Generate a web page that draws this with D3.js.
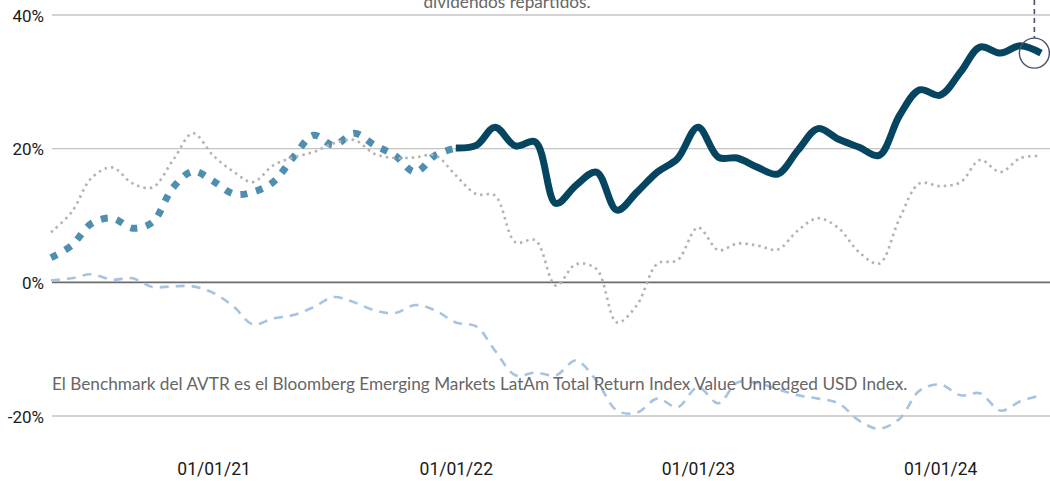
<!DOCTYPE html>
<html>
<head>
<meta charset="utf-8">
<script src="https://cdn.jsdelivr.net/npm/d3@7"></script>
<style>
  html, body { margin: 0; padding: 0; background: #fff; overflow: hidden; }
  svg { display: block; }
</style>
</head>
<body>
<svg id="chart" width="1050" height="481"></svg>
<script>
// ---- data ----
const months = [
  "2020-05","2020-06","2020-07","2020-08","2020-09","2020-10","2020-11","2020-12",
  "2021-01","2021-02","2021-03","2021-04","2021-05","2021-06","2021-07","2021-08",
  "2021-09","2021-10","2021-11","2021-12","2022-01","2022-02","2022-03","2022-04",
  "2022-05","2022-06","2022-07","2022-08","2022-09","2022-10","2022-11","2022-12",
  "2023-01","2023-02","2023-03","2023-04","2023-05","2023-06","2023-07","2023-08",
  "2023-09","2023-10","2023-11","2023-12","2024-01","2024-02","2024-03","2024-04",
  "2024-05","2024-06"
];
// AVTR before launch (thick dotted) May20 - Jan22
const fundHistory = [3.7, 5.5, 8.8, 9.6, 8.1, 9.0, 14.2, 16.6, 15.1, 13.2, 13.5, 15.0,
  18.7, 22.0, 20.5, 22.3, 20.5, 19.0, 16.5, 19.0, 20.1];
// AVTR live (thick solid) Jan22 - Jun24
const fundLive = [20.1, 20.5, 23.2, 20.4, 21.0, 11.8, 14.5, 16.5, 10.8, 13.5, 16.5, 18.5,
  23.2, 18.7, 18.6, 17.2, 16.2, 19.8, 23.0, 21.4, 20.2, 19.0, 25.0, 28.8, 28.0, 31.5,
  35.2, 34.3, 35.4, 34.3];
// Benchmark (grey dotted)
const benchmark = [7.5, 10.5, 15.6, 17.2, 14.8, 14.2, 18.3, 22.3, 18.9, 16.5, 15.0, 17.5,
  18.7, 19.5, 20.8, 21.3, 19.2, 18.6, 18.7, 19.0, 16.0, 13.2, 13.0, 6.0, 6.3, -0.5, 2.7,
  2.0, -6.0, -3.4, 2.8, 3.3, 8.2, 4.8, 5.8, 5.5, 4.9, 7.8, 9.6, 8.1, 4.5, 2.8, 9.6, 14.8,
  14.4, 15.0, 18.3, 16.5, 18.6, 18.9];
// Other index (light blue dashed)
const otherIndex = [0.3, 0.6, 1.2, 0.4, 0.6, -0.7, -0.6, -0.6, -1.6, -3.7, -6.3, -5.4,
  -4.9, -3.7, -2.2, -3.0, -4.2, -4.6, -3.4, -4.2, -6.0, -6.6, -10.2, -13.9, -13.5, -13.9,
  -11.7, -14.7, -19.2, -19.5, -17.4, -18.7, -15.7, -18.1, -15.0, -15.1, -16.0, -16.9,
  -17.4, -18.1, -20.7, -21.9, -20.4, -16.2, -15.3, -16.9, -16.6, -19.2, -17.8, -16.9];

const yTicks = [-20, 0, 20, 40];
const yTickLabels = ["-20%", "0%", "20%", "40%"];
const xTicks = ["2021-01-01", "2022-01-01", "2023-01-01", "2024-01-01"];
const xTickLabels = ["01/01/21", "01/01/22", "01/01/23", "01/01/24"];
const noteTop = "dividendos repartidos.";
const noteBottom = "El Benchmark del AVTR es el Bloomberg Emerging Markets LatAm Total Return Index Value Unhedged USD Index.";
const markerDate = "2024-05-22";
const markerValue = 34.3;

// ---- drawing ----
const parseM = d3.timeParse("%Y-%m");
const parseD = d3.timeParse("%Y-%m-%d");
const dates = months.map(parseM);

const svg = d3.select("#chart");
const x = d3.scaleTime()
  .domain([parseM("2020-05"), parseM("2024-06")])
  .range([51, 1041]);
const y = d3.scaleLinear().domain([-20, 40]).range([416, 15]);

// gridlines
const grid = svg.append("g");
grid.selectAll("line").data(yTicks).join("line")
  .attr("x1", 52).attr("x2", 1050)
  .attr("y1", d => y(d)).attr("y2", d => y(d))
  .attr("stroke", d => d === 0 ? "#6b6b6b" : "#c4c4c4")
  .attr("stroke-width", d => d === 0 ? 1.6 : 1.4);

// y labels
const yAxis = d3.axisLeft(y).tickValues(yTicks).tickFormat((d, i) => yTickLabels[i]).tickSize(0).tickPadding(0);
const gy = svg.append("g").attr("transform", "translate(44,0)").call(yAxis);
gy.select(".domain").remove();
gy.selectAll("text").attr("font-family", "Roboto, Arial, sans-serif").attr("font-size", 17).attr("fill", "#1a1a1a").attr("dy", "0.36em");

// x labels
const xAxis = d3.axisBottom(x).tickValues(xTicks.map(parseD)).tickFormat((d, i) => xTickLabels[i]).tickSize(0).tickPadding(0);
const gx = svg.append("g").attr("transform", "translate(0,475)").call(xAxis);
gx.select(".domain").remove();
gx.selectAll("text").attr("font-family", "Roboto, Arial, sans-serif").attr("font-size", 17.5).attr("fill", "#1a1a1a").attr("dy", "0");

const line = d3.line()
  .x(d => x(d[0])).y(d => y(d[1]))
  .curve(d3.curveCatmullRom.alpha(0.5));

const histPts = fundHistory.map((v, i) => [dates[i], v]);
const livePts = fundLive.map((v, i) => [dates[i + 20], v]);
const benchPts = benchmark.map((v, i) => [dates[i], v]);
const otherPts = otherIndex.map((v, i) => [dates[i], v]);

svg.append("path").attr("d", line(otherPts))
  .attr("fill", "none").attr("stroke", "#a6c4e2").attr("stroke-width", 2.6)
  .attr("stroke-dasharray", "9,7");

svg.append("path").attr("d", line(histPts))
  .attr("fill", "none").attr("stroke", "#4e8eb0").attr("stroke-width", 7)
  .attr("stroke-dasharray", "7,9");

svg.append("path").attr("d", line(benchPts))
  .attr("fill", "none").attr("stroke", "#b3b3b3").attr("stroke-width", 2.6)
  .attr("stroke-dasharray", "2.5,4");

svg.append("path").attr("d", line(livePts))
  .attr("fill", "none").attr("stroke", "#06455f").attr("stroke-width", 7)
  .attr("stroke-linejoin", "round");

// marker
const mx = x(parseD(markerDate)), my = y(markerValue);
svg.append("line").attr("x1", mx).attr("x2", mx).attr("y1", 0).attr("y2", my - 15)
  .attr("stroke", "#46536a").attr("stroke-width", 1.6).attr("stroke-dasharray", "5,4");
svg.append("circle").attr("cx", mx).attr("cy", my).attr("r", 15)
  .attr("fill", "none").attr("stroke", "#46536a").attr("stroke-width", 1.4);

// notes
svg.append("text").attr("x", 507).attr("y", 8).attr("text-anchor", "middle")
  .attr("font-family", "Lato, sans-serif").attr("font-size", 17.2).attr("fill", "#666")
  .text(noteTop);
svg.append("text").attr("x", 52).attr("y", 390)
  .attr("font-family", "Lato, sans-serif").attr("font-size", 17.2).attr("fill", "#666")
  .text(noteBottom);
</script>
</body>
</html>
